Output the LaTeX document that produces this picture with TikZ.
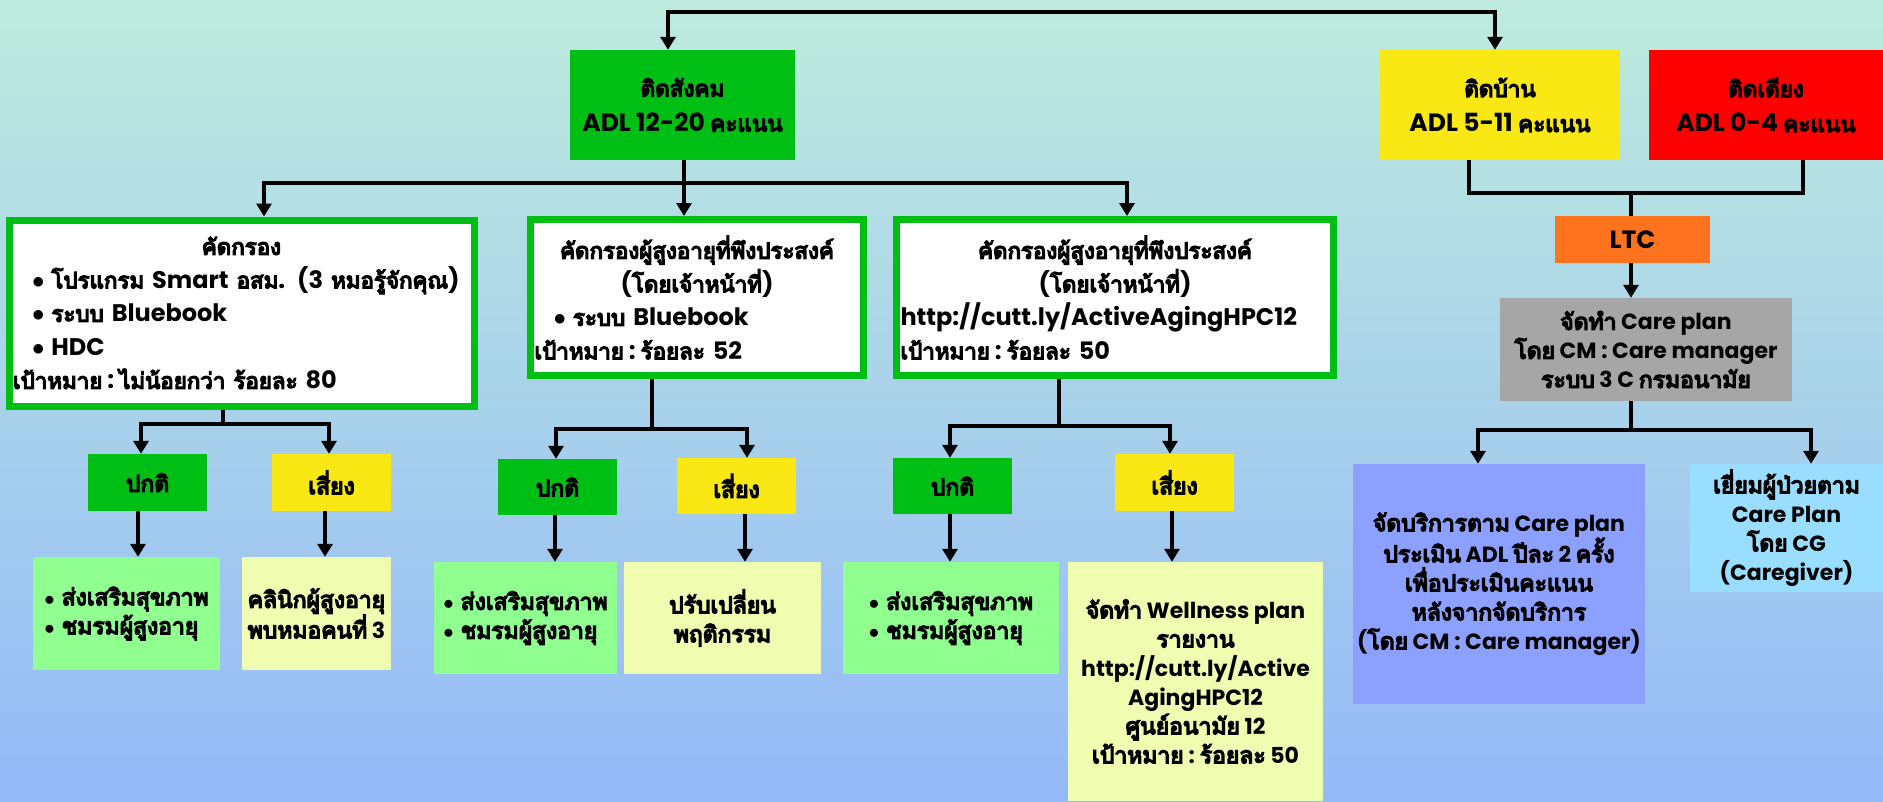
\documentclass[tikz,border=0pt]{standalone}
\usepackage{fontspec}
\usetikzlibrary{arrows.meta,calc}
\setmainfont{Poppins}
\newfontfamily\latinfont{Poppins}
\newfontfamily\thaiH[Script=Thai, Scale=0.9, FakeBold=6]{Loma}
\newfontfamily\thaiB[Script=Thai, Scale=0.93, FakeBold=6]{Loma}
\newfontfamily\thaiS[Script=Thai, Scale=1.04, FakeBold=6]{Loma}
\let\curthai\thaiS
\XeTeXinterchartokenstate=1
\newXeTeXintercharclass\thaiclass
\count255="0E00
\loop\XeTeXcharclass\count255=\thaiclass\ifnum\count255<"0E7F\advance\count255 by 1\repeat
\XeTeXinterchartoks 0 \thaiclass = {\fontseries{m}\curthai}
\XeTeXinterchartoks 4095 \thaiclass = {\fontseries{m}\curthai}
\XeTeXinterchartoks \thaiclass 0 = {\fontseries{b}\latinfont}
\XeTeXinterchartoks \thaiclass 4095 = {\fontseries{b}\latinfont}
\definecolor{bgTop}{RGB}{190,235,221}
\definecolor{bgBot}{RGB}{148,185,248}
\definecolor{gGreen}{RGB}{0,191,20}
\definecolor{gYellow}{RGB}{250,232,20}
\definecolor{gRed}{RGB}{255,0,0}
\definecolor{gOrange}{RGB}{255,115,30}
\definecolor{gGray}{RGB}{166,166,166}
\definecolor{lGreen}{RGB}{143,255,143}
\definecolor{lYellow}{RGB}{240,252,175}
\definecolor{lPeri}{RGB}{140,160,255}
\definecolor{lSky}{RGB}{153,221,255}
\tikzset{
  bx/.style={inner sep=0pt, align=center, text=black, font={\let\curthai\thaiS\bfseries\fontsize{22}{29}\selectfont}},
  head/.style={bx, font={\let\curthai\thaiH\bfseries\fontsize{25}{35}\selectfont}},
  big/.style={bx, draw=gGreen, line width=7pt, fill=white, font={\let\curthai\thaiB\bfseries\fontsize{24}{33.5}\selectfont}},
  arr/.style={line width=4.5pt, -{Triangle[width=15pt,length=13pt]}},
  arrboth/.style={line width=4.5pt, {Triangle[width=15pt,length=13pt]}-{Triangle[width=15pt,length=13pt]}},
  ln/.style={line width=4.5pt},
}
\newcommand{\bul}{$\bullet$\hspace{7pt}}
\newcommand{\cl}{\hspace{5pt}:\hspace{5pt}}
\begin{document}
\begin{tikzpicture}[x=1pt,y=-1pt]
\useasboundingbox (0,0) rectangle (1883,801);
\shade[top color=bgTop, bottom color=bgBot] (0,0) rectangle (1883,801);

% level 1
\node[head, fill=gGreen, minimum width=225pt, minimum height=110pt] (social) at (682.5,105) {ติดสังคม\\ADL 12-20 คะแนน};
\node[head, fill=gYellow, minimum width=240pt, minimum height=110pt] (home) at (1500,105) {ติดบ้าน\\ADL 5-11 คะแนน};
\node[head, fill=gRed, minimum width=234pt, minimum height=110pt] (bed) at (1766,105) {ติดเตียง\\ADL 0-4 คะแนน};

% right branch
\node[head, fill=gOrange, minimum width=155pt, minimum height=47pt] (ltc) at (1632.5,239.5) {LTC};
\node[bx, fill=gGray, minimum width=292pt, minimum height=103pt] (care) at (1646,349.5) {จัดทำ Care plan\\โดย CM : Care manager\\ระบบ 3 C กรมอนามัย};
\node[bx, fill=lPeri, minimum width=292pt, minimum height=240pt] (serv) at (1499,584) {จัดบริการตาม Care plan\\ประเมิน ADL ปีละ 2 ครั้ง\\เพื่อประเมินคะแนน\\หลังจากจัดบริการ\\(โดย CM : Care manager)};
\node[bx, fill=lSky, minimum width=193pt, minimum height=128pt] (visit) at (1786.5,528) {เยี่ยมผู้ป่วยตาม\\Care Plan\\โดย CG\\(Caregiver)};

% level 2 screening boxes
\node[big, minimum width=465pt, minimum height=186pt, text width=457pt, inner xsep=4pt, align=left] (s1) at (241.5,313)
 {\centering คัดกรอง\par\raggedright
  \mbox{\hspace*{19pt}\bul โปรแกรม Smart อสม. (3 หมอรู้จักคุณ)}\par
  \mbox{\hspace*{19pt}\bul ระบบ Bluebook}\par
  \mbox{\hspace*{19pt}\bul HDC}\par
  \mbox{เป้าหมาย\cl ไม่น้อยกว่า ร้อยละ 80}\par};
\node[big, minimum width=333pt, minimum height=156pt, text width=325pt, inner xsep=4pt, align=left] (s2) at (697,297.5)
 {\centering คัดกรองผู้สูงอายุที่พึงประสงค์\par (โดยเจ้าหน้าที่)\par\raggedright
  \mbox{\hspace*{19pt}\bul ระบบ Bluebook}\par
  \mbox{เป้าหมาย\cl ร้อยละ 52}\par};
\node[big, minimum width=437pt, minimum height=156pt, text width=429pt, inner xsep=4pt, align=left] (s3) at (1115,297.5)
 {\centering คัดกรองผู้สูงอายุที่พึงประสงค์\par (โดยเจ้าหน้าที่)\par\raggedright
  \mbox{http://cutt.ly/ActiveAgingHPC12}\par
  \mbox{เป้าหมาย\cl ร้อยละ 50}\par};

% level 3
\node[bx, fill=gGreen, minimum width=119pt, minimum height=57pt] (n1) at (147.5,482.5) {ปกติ};
\node[bx, fill=gYellow, minimum width=119pt, minimum height=57pt] (r1) at (331.5,482.5) {เสี่ยง};
\node[bx, fill=gGreen, minimum width=119pt, minimum height=56pt] (n2) at (557.5,487) {ปกติ};
\node[bx, fill=gYellow, minimum width=119pt, minimum height=56pt] (r2) at (736.5,486) {เสี่ยง};
\node[bx, fill=gGreen, minimum width=119pt, minimum height=56pt] (n3) at (952.5,486) {ปกติ};
\node[bx, fill=gYellow, minimum width=119pt, minimum height=57pt] (r3) at (1174.5,482.5) {เสี่ยง};

% level 4
\node[bx, fill=lGreen, minimum width=187pt, minimum height=113pt, align=left] (p1) at (126.5,613.5) {\bul ส่งเสริมสุขภาพ\\\bul ชมรมผู้สูงอายุ};
\node[bx, fill=lYellow, minimum width=149pt, minimum height=113pt, align=left] (c1) at (316.5,613.5) {คลินิกผู้สูงอายุ\\พบหมอคนที่ 3};
\node[bx, fill=lGreen, minimum width=183pt, minimum height=112pt, align=left] (p2) at (525.5,618) {\bul ส่งเสริมสุขภาพ\\\bul ชมรมผู้สูงอายุ};
\node[bx, fill=lYellow, minimum width=197pt, minimum height=112pt] (c2) at (722.5,618) {ปรับเปลี่ยน\\พฤติกรรม};
\node[bx, fill=lGreen, minimum width=216pt, minimum height=112pt, align=left] (p3) at (951,618) {\bul ส่งเสริมสุขภาพ\\\bul ชมรมผู้สูงอายุ};
\node[bx, fill=lYellow, minimum width=255pt, minimum height=239pt] (w3) at (1195.5,681.5) {จัดทำ Wellness plan\\รายงาน\\http://cutt.ly/Active\\AgingHPC12\\ศูนย์อนามัย 12\\เป้าหมาย\cl ร้อยละ 50};

% coordinates
\coordinate (tl) at (668,12);
\coordinate (tr) at (1495,12);
\coordinate (sj) at (684,183);
\coordinate (sl) at (264,183);
\coordinate (sr) at (1127,183);
\coordinate (hj) at (1631,193);
\coordinate (hl) at (1469,193);
\coordinate (hr) at (1803,193);
\coordinate (cj) at (1631,430);
\coordinate (cl) at (1478,430);
\coordinate (cr) at (1811,430);
\coordinate (aj) at (223,424);
\coordinate (al) at (141,424);
\coordinate (ar) at (329,424);
\coordinate (bj) at (652,429);
\coordinate (bl) at (556,429);
\coordinate (br) at (747,429);
\coordinate (dj) at (1059,426);
\coordinate (dl) at (950,426);
\coordinate (dr) at (1170,426);

% connectors
\draw[arrboth] (social.north -| tl) -- (tl) -- (tr) -- (home.north -| tr);
\draw[ln] (social.south -| sj) -- (sj);
\draw[arr] (sj) -- (sl) -- (s1.north -| sl);
\draw[arr] (sj) -- (s2.north -| sj);
\draw[arr] (sj) -- (sr) -- (s3.north -| sr);

\draw[ln] (home.south -| hl) -- (hl) -- (hr) -- (bed.south -| hr);
\draw[ln] (hj) -- (ltc.north -| hj);
\draw[arr] (ltc.south -| hj) -- (care.north -| hj);
\draw[ln] (care.south -| cj) -- (cj);
\draw[arr] (cj) -- (cl) -- (serv.north -| cl);
\draw[arr] (cj) -- (cr) -- (visit.north -| cr);

\draw[ln] (s1.south -| aj) -- (aj);
\draw[arr] (aj) -- (al) -- (n1.north -| al);
\draw[arr] (aj) -- (ar) -- (r1.north -| ar);
\draw[ln] (s2.south -| bj) -- (bj);
\draw[arr] (bj) -- (bl) -- (n2.north -| bl);
\draw[arr] (bj) -- (br) -- (r2.north -| br);
\draw[ln] (s3.south -| dj) -- (dj);
\draw[arr] (dj) -- (dl) -- (n3.north -| dl);
\draw[arr] (dj) -- (dr) -- (r3.north -| dr);

\draw[arr] (n1.south -| 138,0) -- (p1.north -| 138,0);
\draw[arr] (r1.south -| 325,0) -- (c1.north -| 325,0);
\draw[arr] (n2.south -| 555,0) -- (p2.north -| 555,0);
\draw[arr] (r2.south -| 745,0) -- (c2.north -| 745,0);
\draw[arr] (n3.south -| 950,0) -- (p3.north -| 950,0);
\draw[arr] (r3.south -| 1172,0) -- (w3.north -| 1172,0);
\end{tikzpicture}
\end{document}
